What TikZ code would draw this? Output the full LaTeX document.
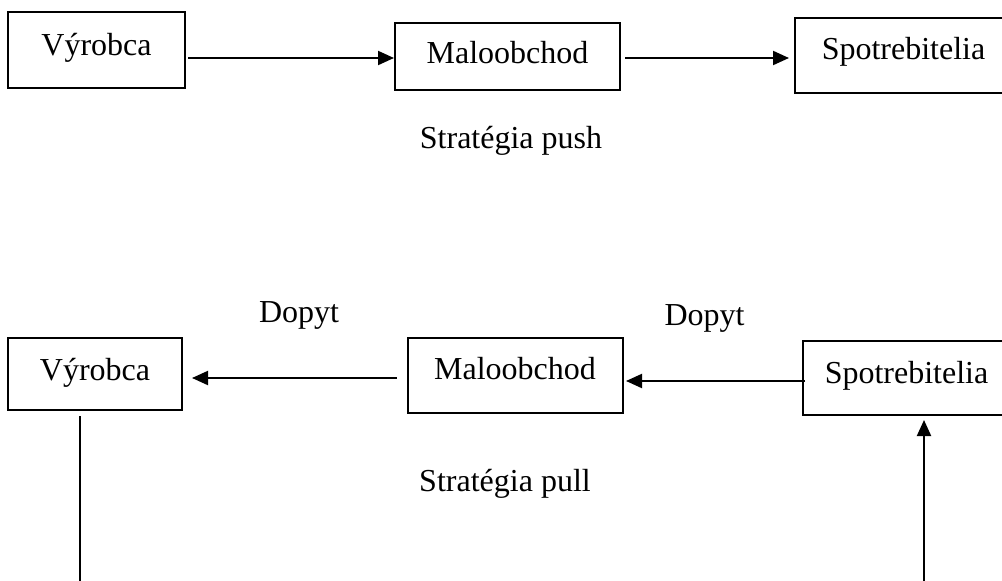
\documentclass[tikz,border=0pt]{standalone}
\usepackage{fontspec}
\setmainfont{Liberation Serif}
\usetikzlibrary{arrows.meta}
\begin{document}
\begin{tikzpicture}[x=1pt,y=-1pt,
  bx/.style={draw, line width=2pt, inner sep=0pt, text depth=0pt, font=\fontsize{32}{38}\selectfont},
  lbl/.style={anchor=base, inner sep=0pt, font=\fontsize{32}{38}\selectfont},
  conn/.style={line width=2pt},
  arr/.style={line width=2pt, -{Triangle[length=16pt,width=14pt]}}]
\useasboundingbox (0,0) rectangle (1002,581);
\fill[white] (0,0) rectangle (1002,581);
% push strategy
\node[bx, minimum width=177pt, minimum height=76pt, text height=10pt] (v1) at (96.5,50) {Výrobca};
\node[bx, minimum width=225pt, minimum height=67pt, text height=13pt] (m1) at (507.5,56.5) {Maloobchod};
\node[bx, minimum width=217pt, minimum height=75pt, text height=7pt] (s1) at (903.5,55.5) {Spotrebitelia};
\node[lbl] (push) at (511,148) {Stratégia push};
\draw[arr] ([xshift=2pt,yshift=-8pt]v1.east) -- ([yshift=-1.5pt]m1.west);
\draw[arr] ([xshift=4pt,yshift=-1.5pt]m1.east) -- ([xshift=-5pt,yshift=-2.5pt]s1.west);
% pull strategy
\node[bx, minimum width=174pt, minimum height=72pt, text height=12pt] (v2) at (95,374) {Výrobca};
\node[bx, minimum width=215pt, minimum height=75pt, text height=7pt] (m2) at (515,375.5) {Maloobchod};
\node[bx, minimum width=207pt, minimum height=74pt, text height=10pt] (s2) at (906.5,378) {Spotrebitelia};
\node[lbl] (d1) at (299,322) {Dopyt};
\node[lbl] (d2) at (704.5,325) {Dopyt};
\node[lbl] (pull) at (505,491) {Stratégia pull};
\draw[arr] ([xshift=-10pt,yshift=-2.5pt]m2.west) -- ([xshift=9pt,yshift=-4pt]v2.east);
\draw[arr] ([xshift=3pt,yshift=-3pt]s2.west) -- ([xshift=2.5pt,yshift=-5.5pt]m2.east);
\coordinate (vend) at (80,583);
\coordinate (aend) at (924,583);
\draw[conn] ([xshift=-15pt,yshift=-5pt]v2.south) -- (vend);
\draw[arr] (aend) -- ([xshift=17.5pt,yshift=-4pt]s2.south);
\end{tikzpicture}
\end{document}
